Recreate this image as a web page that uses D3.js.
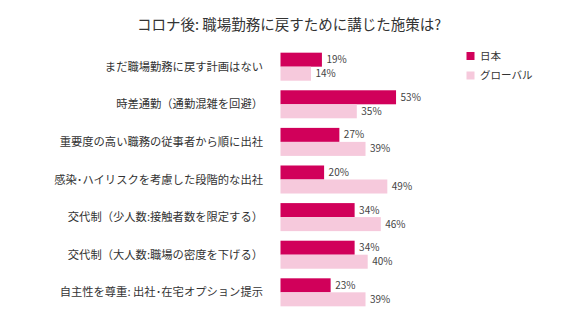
<!DOCTYPE html>
<html>
<head>
<meta charset="utf-8">
<script src="https://cdn.jsdelivr.net/npm/d3@7"></script>
<style>
  html, body { margin: 0; padding: 0; background: #fff; }
  svg { display: block; font-family: "Noto Sans CJK JP", "Noto Sans", sans-serif; }
</style>
</head>
<body>
<svg id="chart" width="580" height="326"></svg>
<script>
const title = "コロナ後: 職場勤務に戻すために講じた施策は?";
const categories = [
  "まだ職場勤務に戻す計画はない",
  "時差通勤（通勤混雑を回避）",
  "重要度の高い職務の従事者から順に出社",
  "感染･ハイリスクを考慮した段階的な出社",
  "交代制（少人数:接触者数を限定する）",
  "交代制（大人数:職場の密度を下げる）",
  "自主性を尊重: 出社･在宅オプション提示"
];
const seriesNames = ["日本", "グローバル"];
const japan = [19, 53, 27, 20, 34, 34, 23];
const globalVals = [14, 35, 39, 49, 46, 40, 39];
const colors = ["#d1005a", "#f6c9dc"];

const svg = d3.select("#chart");

svg.append("text")
  .attr("x", 289).attr("y", 30)
  .attr("text-anchor", "middle")
  .attr("font-size", 14.5)
  .attr("fill", "#333")
  .text(title);

const x = d3.scaleLinear().domain([0, 100]).range([280.5, 498.5]);
const y = d3.scaleBand().domain(categories).range([47.9, 311.1]).paddingInner(0.255).paddingOuter(0.127);
const sub = d3.scaleBand().domain(seriesNames).range([0, y.bandwidth()]);

const data = categories.map((c, i) => ({ c, vals: [japan[i], globalVals[i]] }));

const g = svg.append("g");
const groups = g.selectAll("g.grp").data(data).join("g")
  .attr("transform", d => `translate(0,${y(d.c)})`);

groups.selectAll("rect").data(d => d.vals.map((v, k) => ({ v, k })))
  .join("rect")
  .attr("x", x(0))
  .attr("y", d => sub(seriesNames[d.k]))
  .attr("width", d => x(d.v) - x(0))
  .attr("height", sub.bandwidth())
  .attr("fill", d => colors[d.k]);

groups.selectAll("text.val").data(d => d.vals.map((v, k) => ({ v, k })))
  .join("text")
  .attr("class", "val")
  .attr("x", d => x(d.v) + 4.5)
  .attr("y", d => sub(seriesNames[d.k]) + sub.bandwidth() / 2)
  .attr("dy", "0.36em")
  .attr("font-size", 10)
  .attr("fill", "#444")
  .text(d => d.v + "%");

// category labels, right-aligned against the bars
groups.append("text")
  .attr("x", 263)
  .attr("y", y.bandwidth() / 2)
  .attr("dy", "0.36em")
  .attr("text-anchor", "end")
  .attr("font-size", 11.3)
  .attr("fill", "#333")
  .text(d => d.c);

// legend
const legend = svg.append("g").attr("transform", "translate(466.5,52)");
seriesNames.forEach((name, k) => {
  const row = legend.append("g").attr("transform", `translate(0,${k * 19.5})`);
  row.append("rect").attr("width", 8).attr("height", 8).attr("fill", colors[k]);
  row.append("text").attr("x", 13.5).attr("y", 4).attr("dy", "0.36em")
    .attr("font-size", 10.5).attr("fill", "#333").text(name);
});
</script>
</body>
</html>
